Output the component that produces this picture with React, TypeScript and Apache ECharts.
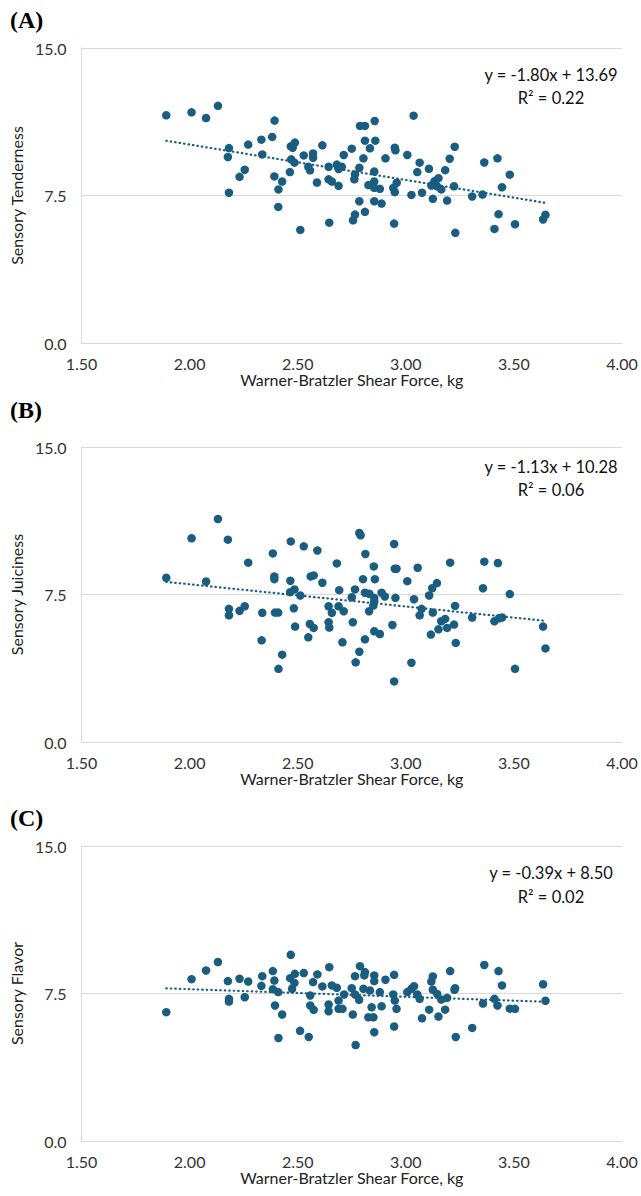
import React, { useEffect, useRef } from 'react';
import * as echarts from 'echarts';

// ---------- DATA ----------
const panelLabels = ['(A)', '(B)', '(C)'];
const yAxisNames = ['Sensory Tenderness', 'Sensory Juiciness', 'Sensory Flavor'];
const xAxisName = 'Warner-Bratzler Shear Force, kg';

const tendernessPoints: number[][] = [
  [1.892, 11.58], [2.009, 11.73], [2.076, 11.44], [2.131, 12.06], [2.393, 11.31], [2.382, 10.48], [2.332, 10.34],
  [2.271, 10.09], [2.182, 9.91], [2.177, 9.46], [2.336, 9.59], [2.255, 8.81], [2.231, 8.45], [2.182, 7.64],
  [2.392, 8.47], [2.428, 8.21], [2.411, 7.81], [2.41, 6.92], [2.512, 5.75], [2.464, 8.69], [2.468, 10.0],
  [2.487, 10.19], [2.477, 9.93], [2.47, 9.34], [2.485, 9.17], [2.528, 9.54], [2.571, 9.64], [2.571, 9.42],
  [2.614, 10.05], [2.549, 8.96], [2.557, 8.78], [2.589, 8.16], [2.643, 8.96], [2.643, 8.32], [2.658, 8.21],
  [2.689, 7.99], [2.681, 9.07], [2.704, 8.96], [2.713, 9.56], [2.75, 9.88], [2.788, 11.04], [2.765, 8.57],
  [2.762, 8.32], [2.785, 7.21], [2.765, 6.53], [2.756, 6.24], [2.646, 6.12],
  [2.811, 11.04], [2.856, 11.29], [3.036, 11.56], [2.811, 10.29], [2.859, 10.29], [2.834, 9.9], [2.804, 9.39],
  [2.689, 8.85], [2.785, 8.91], [2.854, 8.72], [2.827, 8.03], [2.854, 8.21], [2.854, 7.89], [2.88, 7.84],
  [2.854, 7.21], [2.888, 7.09], [2.811, 6.67], [2.906, 9.39], [2.949, 9.93], [2.952, 9.8], [3.007, 9.56],
  [3.064, 9.17], [3.107, 8.86], [3.053, 8.69], [2.958, 8.15], [2.942, 7.89], [2.949, 7.67], [3.026, 7.53],
  [3.075, 7.64], [3.125, 7.33], [3.118, 8.01], [3.133, 8.23], [3.151, 8.38], [3.145, 7.97], [3.164, 7.81],
  [3.191, 7.24], [3.182, 8.79], [3.203, 9.37], [3.226, 9.98], [3.223, 7.97], [2.946, 6.07], [3.229, 5.6],
  [3.307, 7.45], [3.355, 7.55], [3.363, 9.18], [3.424, 9.39], [3.445, 7.92], [3.481, 8.56], [3.429, 6.55],
  [3.41, 5.8], [3.505, 6.04], [3.635, 6.28], [3.646, 6.52],
];

const juicinessPoints: number[][] = [
  [1.892, 8.35], [2.009, 10.36], [2.076, 8.16], [2.131, 11.34], [2.177, 10.29], [2.182, 6.77], [2.182, 6.44],
  [2.231, 6.67], [2.255, 6.9], [2.271, 9.12], [2.333, 5.17], [2.336, 6.57], [2.385, 9.59], [2.392, 8.42],
  [2.392, 8.28], [2.395, 6.58], [2.41, 6.58], [2.428, 4.44], [2.411, 3.72], [2.468, 10.2], [2.466, 8.2],
  [2.465, 7.62], [2.485, 7.76], [2.512, 7.45], [2.482, 6.8], [2.488, 5.87], [2.528, 9.95], [2.591, 9.74],
  [2.56, 8.42], [2.574, 8.47], [2.614, 8.1], [2.556, 6.0], [2.574, 5.8], [2.549, 5.32], [2.681, 9.08],
  [2.692, 7.72], [2.643, 6.9], [2.658, 6.57], [2.689, 6.9], [2.713, 6.65], [2.643, 6.09], [2.646, 5.82],
  [2.707, 5.07], [2.75, 7.36], [2.765, 7.76], [2.755, 6.09], [2.785, 4.59], [2.768, 4.05],
  [2.785, 10.63], [2.791, 10.51], [2.946, 10.07], [2.813, 9.56], [2.852, 8.93], [2.949, 8.81], [2.957, 8.81],
  [3.055, 8.86], [3.205, 9.12], [3.363, 9.17], [3.426, 9.1], [2.802, 8.28], [2.857, 8.28], [3.007, 8.18],
  [3.144, 8.08], [3.122, 7.82], [3.357, 7.82], [3.481, 7.52], [2.811, 7.59], [2.831, 7.54], [2.854, 7.33],
  [2.854, 7.16], [2.888, 7.59], [2.903, 7.4], [2.85, 6.94], [2.83, 6.65], [2.952, 7.33], [3.038, 7.26],
  [3.108, 7.45], [3.228, 6.92], [3.073, 6.77], [3.064, 6.44], [3.125, 6.58], [3.307, 6.33], [3.164, 6.14],
  [3.182, 6.26], [3.151, 5.73], [3.191, 5.8], [3.223, 5.97], [3.41, 6.14], [3.431, 6.29], [3.445, 6.33],
  [2.854, 5.63], [2.88, 5.49], [2.938, 5.95], [2.811, 5.22], [3.026, 4.03], [2.946, 3.08], [3.116, 5.46],
  [3.231, 5.04], [3.505, 3.72], [3.635, 5.87], [3.646, 4.76],
];

const flavorPoints: number[][] = [
  [1.892, 6.55], [2.009, 8.23], [2.076, 8.67], [2.131, 9.1], [2.177, 8.13], [2.182, 7.23], [2.182, 7.09],
  [2.231, 8.25], [2.271, 8.11], [2.255, 7.31], [2.336, 8.38], [2.332, 7.89], [2.385, 8.64], [2.392, 8.16],
  [2.385, 7.72], [2.41, 7.57], [2.395, 6.89], [2.428, 6.43], [2.411, 5.24], [2.468, 9.47], [2.487, 8.5],
  [2.465, 8.28], [2.485, 8.04], [2.474, 7.74], [2.528, 8.54], [2.591, 8.47], [2.571, 8.08], [2.614, 7.86],
  [2.558, 7.4], [2.558, 6.89], [2.574, 6.67], [2.511, 5.6], [2.551, 5.29], [2.646, 8.84], [2.658, 7.91],
  [2.681, 7.79], [2.715, 7.45], [2.689, 7.14], [2.643, 6.94], [2.643, 6.6], [2.689, 6.72], [2.707, 6.72],
  [2.755, 6.43], [2.765, 8.38], [2.75, 7.77], [2.765, 7.45], [2.784, 7.18], [2.768, 4.88],
  [2.788, 8.89], [2.811, 8.59], [2.808, 8.42], [2.854, 8.42], [2.854, 8.13], [2.906, 8.2], [2.946, 8.45],
  [2.804, 7.74], [2.834, 7.65], [2.88, 7.57], [2.842, 6.8], [2.85, 6.29], [2.827, 6.29], [2.888, 6.85],
  [2.942, 7.45], [2.949, 7.14], [2.957, 6.72], [2.854, 5.53], [2.946, 5.82], [3.007, 7.57], [3.026, 7.74],
  [3.038, 7.87], [3.053, 7.45], [3.064, 7.23], [3.075, 6.24], [3.108, 6.68], [3.118, 8.11], [3.125, 8.37],
  [3.125, 7.69], [3.145, 7.48], [3.164, 7.19], [3.191, 7.28], [3.182, 6.68], [3.151, 6.33], [3.205, 8.64],
  [3.225, 7.69], [3.228, 7.77], [3.231, 5.29], [3.307, 5.75], [3.363, 8.95], [3.357, 6.99], [3.429, 8.64],
  [3.445, 7.91], [3.41, 7.23], [3.424, 6.89], [3.481, 6.73], [3.505, 6.72], [3.635, 7.97], [3.646, 7.13],
];

const slopes = [-1.8, -1.13, -0.39];
const intercepts = [13.69, 10.28, 8.5];
const rSquared = [0.22, 0.06, 0.02];

const xMin = 1.5;
const xMax = 4.0;
const xInterval = 0.5;
const yMin = 0;
const yMax = 15;
const yInterval = 7.5;

// ---------- LAYOUT ----------
const COLOR = '#195d80';
const FONT = 'Lato';
const gridTops = [48, 447, 846];
const gridHeight = 295;
const gridLeft = 78;
const gridWidth = 544;
const labelTops = [21, 411, 819];
const eqOffsets = [[27, 50], [20, 43], [27, 51]];

function fmtSigned(v: number) {
  return v < 0 ? '-' + Math.abs(v).toFixed(2) : v.toFixed(2);
}

export default function App() {
  const ref = useRef<HTMLDivElement>(null);

  useEffect(() => {
    document.body.style.margin = '0';
    if (!ref.current) return;
    const chart = echarts.init(ref.current, null, { renderer: 'svg' });
    const datasets = [tendernessPoints, juicinessPoints, flavorPoints];

    const grids: any[] = [];
    const xAxes: any[] = [];
    const yAxes: any[] = [];
    const series: any[] = [];
    const graphics: any[] = [];

    datasets.forEach((pts, i) => {
      grids.push({ left: gridLeft, top: gridTops[i], width: gridWidth, height: gridHeight });
      xAxes.push({
        gridIndex: i,
        type: 'value',
        min: xMin,
        max: xMax,
        interval: xInterval,
        name: xAxisName,
        nameLocation: 'middle',
        nameGap: 27,
        nameTextStyle: { fontFamily: FONT, fontSize: 16, color: '#222' },
        axisLine: { show: true, onZero: false, lineStyle: { color: '#d9d9d9', width: 1 } },
        axisTick: { show: false },
        splitLine: { show: false },
        axisLabel: {
          fontFamily: FONT,
          fontSize: 16,
          color: '#333',
          margin: 12,
          formatter: (v: number) => v.toFixed(2),
        },
      });
      yAxes.push({
        gridIndex: i,
        type: 'value',
        min: yMin,
        max: yMax,
        interval: yInterval,
        name: yAxisNames[i],
        nameLocation: 'middle',
        nameGap: 52,
        nameTextStyle: { fontFamily: FONT, fontSize: 16, color: '#222' },
        axisLine: { show: true, lineStyle: { color: '#d9d9d9', width: 1 } },
        axisTick: { show: false },
        splitLine: { show: true, lineStyle: { color: '#d9d9d9', width: 1 } },
        axisLabel: {
          fontFamily: FONT,
          fontSize: 16,
          color: '#333',
          margin: 15,
          formatter: (v: number) => v.toFixed(1),
        },
      });
      series.push({
        type: 'scatter',
        xAxisIndex: i,
        yAxisIndex: i,
        symbol: 'circle',
        symbolSize: 8.5,
        itemStyle: { color: COLOR, opacity: 1 },
        data: pts,
        z: 3,
      });
      const xs = pts.map((p) => p[0]);
      const lo = Math.min(...xs);
      const hi = Math.max(...xs);
      series.push({
        type: 'line',
        xAxisIndex: i,
        yAxisIndex: i,
        symbol: 'none',
        lineStyle: { color: COLOR, width: 2.2, type: [0.5, 4], cap: 'round' },
        data: [
          [lo, slopes[i] * lo + intercepts[i]],
          [hi, slopes[i] * hi + intercepts[i]],
        ],
        z: 4,
      });
      graphics.push({
        type: 'text',
        left: 10,
        top: labelTops[i] - 13,
        style: {
          text: panelLabels[i],
          font: 'bold 24px "Liberation Serif", "Times New Roman", serif',
          fill: '#000',
        },
      });
      const eq = `y = ${fmtSigned(slopes[i])}x + ${intercepts[i].toFixed(2)}`;
      graphics.push({
        type: 'text',
        x: 551,
        y: gridTops[i] + eqOffsets[i][0],
        style: {
          text: eq,
          font: `16.5px ${FONT}`,
          fill: '#111',
          align: 'center',
          verticalAlign: 'middle',
        },
      });
      graphics.push({
        type: 'text',
        x: 551,
        y: gridTops[i] + eqOffsets[i][1],
        style: {
          text: `R² = ${rSquared[i].toFixed(2)}`,
          font: `16.5px ${FONT}`,
          fill: '#111',
          align: 'center',
          verticalAlign: 'middle',
        },
      });
    });

    chart.setOption({
      animation: false,
      backgroundColor: '#fff',
      grid: grids,
      xAxis: xAxes,
      yAxis: yAxes,
      series,
      graphic: graphics,
    });
    return () => chart.dispose();
  }, []);

  return <div ref={ref} style={{ width: 641, height: 1196 }} />;
}
